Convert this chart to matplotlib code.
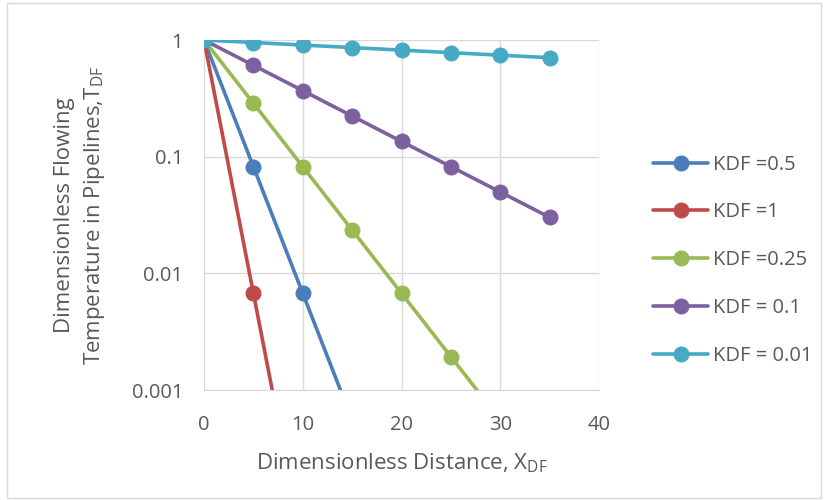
import matplotlib.pyplot as plt
from matplotlib.patches import Rectangle

plt.rcParams['font.family'] = ['Open Sans', 'DejaVu Sans']

xdf = [0, 5, 10, 15, 20, 25, 30, 35]
kdf_05 = [1, 0.0821, 0.00674, 0.000553, 4.54e-5, 3.73e-6, 3.06e-7, 2.51e-8]
kdf_1 = [1, 0.00674, 4.54e-5, 3.06e-7, 2.06e-9, 1.39e-11, 9.36e-14, 6.31e-16]
kdf_025 = [1, 0.287, 0.0821, 0.0235, 0.00674, 0.00193, 0.000553, 0.000158]
kdf_01 = [1, 0.607, 0.368, 0.223, 0.135, 0.0821, 0.0498, 0.0302]
kdf_001 = [1, 0.951, 0.905, 0.861, 0.819, 0.779, 0.741, 0.705]

series = [
    ('KDF =0.5', kdf_05, '#4A7EBB'),
    ('KDF =1', kdf_1, '#BE4B48'),
    ('KDF =0.25', kdf_025, '#98B954'),
    ('KDF = 0.1', kdf_01, '#7D60A0'),
    ('KDF = 0.01', kdf_001, '#46AAC5'),
]

txt = '#595959'
fig = plt.figure(figsize=(8.27, 5.0), dpi=100)
fig.patches.append(Rectangle((0.008, 0.004), 0.985, 0.99, transform=fig.transFigure,
                             fill=False, edgecolor='#D9D9D9', linewidth=1))
ax = fig.add_axes([0.2467, 0.22, 0.4776, 0.70])

for name, vals, col in series:
    ax.plot(xdf, vals, color=col, linewidth=2.6, marker='o', markersize=10.5, label=name,
            solid_capstyle='round')

ax.set_yscale('log')
ax.set_ylim(0.001, 1)
ax.set_xlim(0, 40)
ax.set_xticks([0, 10, 20, 30, 40])
ax.set_yticks([0.001, 0.01, 0.1, 1])
ax.set_yticklabels(['0.001', '0.01', '0.1', '1'])
ax.minorticks_off()
ax.grid(True, color='#D9D9D9', linewidth=1)
ax.set_axisbelow(True)
for s in ['top', 'right', 'left']:
    ax.spines[s].set_visible(False)
ax.spines['bottom'].set_color('#D9D9D9')
ax.tick_params(length=0, labelsize=14.5, colors=txt)
ax.tick_params(axis='x', pad=18)
ax.tick_params(axis='y', pad=15)

ax.set_xlabel('Dimensionless Distance, X$_{\\mathregular{DF}}$', fontsize=16, color=txt, labelpad=12)
ax.set_ylabel('Dimensionless Flowing\nTemperature in Pipelines,T$_{\\mathregular{DF}}$',
              fontsize=16, color=txt, labelpad=18, linespacing=1.35)

leg = ax.legend(loc='center left', bbox_to_anchor=(1.092, 0.371), frameon=False,
                fontsize=14.5, labelcolor=txt, labelspacing=1.38, handlelength=2.7,
                handletextpad=0.25)

fig.savefig('out.png', dpi=100)
